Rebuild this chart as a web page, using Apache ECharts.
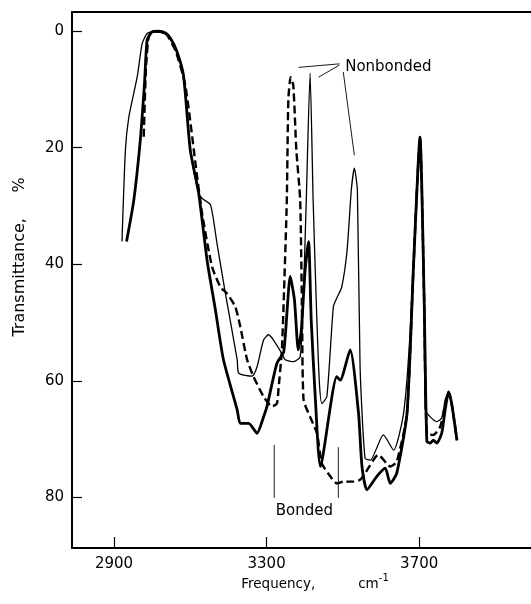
<!DOCTYPE html>
<html><head><meta charset="utf-8">
<script src="https://cdn.jsdelivr.net/npm/echarts@6/dist/echarts.min.js"></script>
<style>html,body{margin:0;padding:0;background:#fff}#c{width:531px;height:604px}</style>
</head><body><div id="c"></div>
<script>
// Axis ticks
const xTicks = [2900, 3300, 3700];
const yTicks = [0, 20, 40, 60, 80];

// Thin solid curve
const thinX = [2921,2930,2939,2961,2974,2987,3009,3022,3035,3048,3064,3082,3100,3122,3131,3153,3170,3192,3223,3227,3262,3275,3292,3305,3318,3340,3349,3371,3388,3396,3404,3414,3422,3430,3438,3445,3458,3475,3484,3497,3511,3522,3530,3538,3545,3558,3572,3606,3633,3659,3676,3692,3702,3713,3716,3729,3746,3759,3768,3777,3785,3799];
const thinY = [36.1,20.4,14.7,7.8,2.1,0.4,0,0.2,0.5,1.3,3.3,7.5,20.4,27.8,28.7,29.8,36.4,45,56.4,58.7,59.2,57.6,53,52.1,53,55.3,56.4,56.7,55.9,46.1,29,7.2,29,46.1,59.9,63.9,62.7,47.3,45.8,43.9,37.6,27.3,23.5,27.3,57.6,73.3,73.6,69.3,71.9,65.6,51.9,29,18.2,46.1,65,66.2,67,66.4,63.3,61.9,63.9,70.2];

// Thick solid curve
const thickX = [2933,2952,2969,2980,2987,3000,3016,3035,3048,3064,3082,3100,3122,3144,3166,3187,3223,3231,3253,3275,3292,3301,3327,3345,3362,3373,3383,3391,3401,3410,3417,3428,3441,3484,3493,3519,3541,3550,3563,3589,3611,3624,3641,3668,3685,3702,3713,3720,3729,3737,3746,3759,3768,3777,3785,3799];
const thickY = [36.1,29,18.7,9,1.5,0.1,0,0.3,1.2,3.3,7.5,20.4,27.8,39.3,47.9,56.4,65,67.3,67.3,69,66.2,64.4,57,55,42.1,46.1,54.7,51.3,41,36.1,49.6,63.3,74.7,59.3,59.9,54.7,65.6,74.7,78.7,76.4,75,77.6,75.9,65.6,40.4,18.2,46.1,70.4,70.7,70.2,70.7,69,65,61.9,63.9,70.2];

// Dashed curve
const dashX = [2978,2984,2991,3001,3016,3035,3061,3087,3118,3131,3157,3179,3196,3218,3231,3249,3266,3292,3314,3327,3331,3340,3345,3353,3357,3363,3370,3378,3388,3393,3397,3414,3432,3445,3467,3484,3502,3528,3545,3558,3593,3624,3641,3668,3685,3702,3713,3720,3737,3755,3768,3777,3785,3799];
const dashY = [18.1,6.1,1,0,0,0.3,3.3,9.3,25,31.3,40.4,43.9,45,47.3,50.7,56.4,59.3,62.7,64.4,63.9,61.6,54.7,46.1,29,11.8,7.9,9.3,20.4,29,49,63.3,66.2,69,74.2,76.4,77.6,77.3,77.3,77,75.9,72.7,74.7,73.9,65.6,40.4,18.2,46.1,69,69.3,67.9,64.2,61.9,63.9,70.2];

// Annotations (data coordinates)
const nonbondedText = 'Nonbonded';
const nonbondedAnchor = [3506, 6.1];
const nonbondedLeaders = [[[3384, 6.2], [3491, 5.6]], [[3436, 7.9], [3491, 5.8]], [[3501, 7.0], [3530, 21.3]]];
const bondedText = 'Bonded';
const bondedAnchor = [3399, 82.3];
const bondedLeaders = [[[3320, 71.0], [3320, 80.1]], [[3488, 71.4], [3488, 80.1]]];

const zip = (xs, ys) => xs.map((x, i) => [x, ys[i]]);
const FONT = 'DejaVu Sans';
const chart = echarts.init(document.getElementById('c'), null, {renderer: 'canvas'});
const axLine = {show: true, onZero: false, lineStyle: {color: '#000', width: 2}};

chart.setOption({
  animation: false,
  backgroundColor: '#fff',
  grid: {left: 72, right: 0, top: 12, bottom: 56},
  xAxis: [{
    type: 'value', min: 2790, max: 3993, position: 'bottom',
    axisLine: axLine,
    axisTick: {show: true, inside: true, length: 11, customValues: xTicks, lineStyle: {color: '#000', width: 1.2}},
    axisLabel: {customValues: xTicks, color: '#000', fontFamily: FONT, fontSize: 15, margin: 9, formatter: (v) => String(v)},
    splitLine: {show: false}
  }, {
    type: 'value', min: 2790, max: 3993, position: 'top',
    axisLine: axLine, axisTick: {show: false}, axisLabel: {show: false}, splitLine: {show: false}
  }],
  yAxis: {
    type: 'value', inverse: true, min: -3.3, max: 88.7,
    axisLine: axLine,
    axisTick: {show: true, inside: true, length: 10, customValues: yTicks, lineStyle: {color: '#000', width: 1.2}},
    axisLabel: {customValues: yTicks, color: '#000', fontFamily: FONT, fontSize: 15, margin: 8, formatter: (v) => String(v)},
    splitLine: {show: false}
  },
  series: [
    {name: 'thin', type: 'line', data: zip(thinX, thinY), symbol: 'none', smooth: 0.2,
     lineStyle: {color: '#000', width: 1.3}},
    {name: 'thick', type: 'line', data: zip(thickX, thickY), symbol: 'none', smooth: 0.2,
     lineStyle: {color: '#000', width: 2.8}},
    {name: 'dashed', type: 'line', data: zip(dashX, dashY), symbol: 'none', smooth: 0.2,
     lineStyle: {color: '#000', width: 2.4, type: [8, 4]}}
  ]
});

const P = (p) => chart.convertToPixel({xAxisIndex: 0, yAxisIndex: 0}, p);
const g = [];
nonbondedLeaders.concat(bondedLeaders).forEach(([a, b]) => {
  const pa = P(a), pb = P(b);
  g.push({type: 'line', shape: {x1: pa[0], y1: pa[1], x2: pb[0], y2: pb[1]}, style: {stroke: '#000', lineWidth: 0.9}});
});
const na = P(nonbondedAnchor);
g.push({type: 'text', x: na[0], y: na[1], style: {text: nonbondedText, fill: '#000', font: '15px "DejaVu Sans"', textAlign: 'left', textVerticalAlign: 'middle'}});
const ba = P(bondedAnchor);
g.push({type: 'text', x: ba[0], y: ba[1], style: {text: bondedText, fill: '#000', font: '15px "DejaVu Sans"', textAlign: 'center', textVerticalAlign: 'middle'}});
// Axis titles
g.push({type: 'text', x: 20, y: 257, rotation: Math.PI / 2,
  style: {text: 'Transmittance,     %', fill: '#000', font: '16px "DejaVu Sans"', textAlign: 'center', textVerticalAlign: 'middle'}});
g.push({type: 'text', x: 315, y: 582,
  style: {text: '{a|Frequency,}{a|          cm}{s|-1}', fill: '#000', textAlign: 'center', textVerticalAlign: 'middle',
    rich: {a: {fontFamily: FONT, fontSize: 13.5, lineHeight: 18, verticalAlign: 'bottom', fill: '#000'},
           s: {fontFamily: FONT, fontSize: 10, lineHeight: 18, verticalAlign: 'top', fill: '#000'}}}});
chart.setOption({graphic: g});
</script>
</body></html>
